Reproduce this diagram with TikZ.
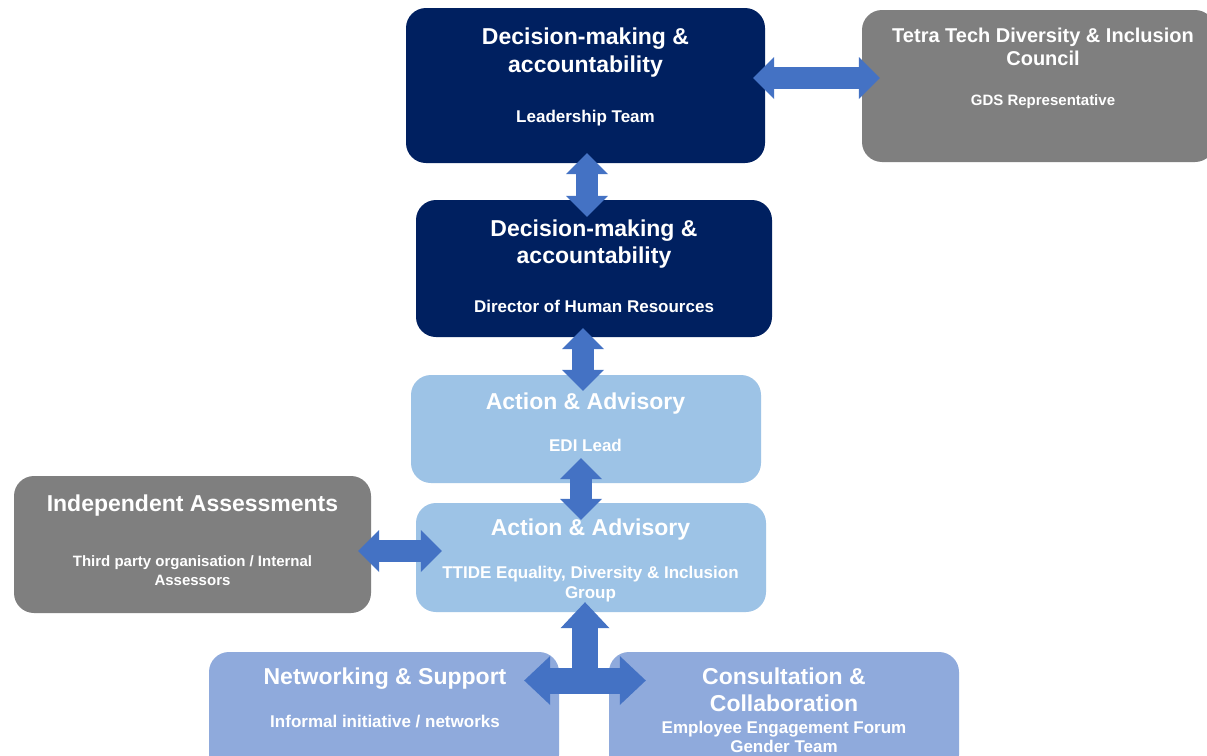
\documentclass[tikz,border=0pt]{standalone}
\usepackage{fontspec}
\setmainfont{Liberation Sans}
\usetikzlibrary{arrows.meta,calc}
\definecolor{navy}{HTML}{002060}
\definecolor{greybox}{HTML}{7F7F7F}
\definecolor{lightbox}{HTML}{9DC3E6}
\definecolor{midbox}{HTML}{8FAADC}
\definecolor{arrowblue}{HTML}{4472C4}
\begin{document}
\begin{tikzpicture}[x=1pt,y=-1pt,
  box/.style={rounded corners=20pt, inner sep=0pt, draw=none},
  head/.style={anchor=base, text=white, inner sep=0pt, font=\bfseries\fontsize{23}{27}\selectfont},
  headsm/.style={anchor=base, text=white, inner sep=0pt, font=\bfseries\fontsize{20}{24}\selectfont},
  sub/.style={anchor=base, text=white, inner sep=0pt, font=\bfseries\fontsize{17}{20}\selectfont},
  subsm/.style={anchor=base, text=white, inner sep=0pt, font=\bfseries\fontsize{15}{18}\selectfont},
  tipa/.tip={Triangle[width=42pt 0, length=21pt 0, line width=0pt 0]},
  tipb/.tip={Triangle[width=49pt 0, length=26pt 0, line width=0pt 0]},
  dbl/.style={draw=arrowblue, line width=22pt, tipa-tipa},
  dblbig/.style={draw=arrowblue, line width=26pt, tipb-tipb},
  sglbig/.style={draw=arrowblue, line width=26pt, -tipb}]
\clip (0,0) rectangle (1207,755);
\fill[white] (0,0) rectangle (1207,755);
% boxes
\node[box, fill=navy, minimum width=359pt, minimum height=155pt] (lead) at (585.5,85.5) {};
\node[box, fill=greybox, minimum width=353pt, minimum height=152pt] (tetra) at (1038.5,86) {};
\node[box, fill=navy, minimum width=356pt, minimum height=137pt] (dir) at (594,268.5) {};
\node[box, fill=lightbox, minimum width=350pt, minimum height=108pt] (edi) at (586,429) {};
\node[box, fill=lightbox, minimum width=350pt, minimum height=109pt] (ttide) at (591,557.5) {};
\node[box, fill=greybox, minimum width=357pt, minimum height=137pt] (ind) at (192.5,544.5) {};
\node[box, fill=midbox, minimum width=350pt, minimum height=123pt] (net) at (384,713.5) {};
\node[box, fill=midbox, minimum width=350pt, minimum height=123pt] (con) at (784,713.5) {};
% texts
\node[head] (leadh1) at (585.5,44) {Decision-making \&};
\node[head] (leadh2) at (585.5,72) {accountability};
\node[sub] (leads) at (585.5,122.5) {Leadership Team};
\node[headsm] (tetrah1) at (1043,42) {Tetra Tech Diversity \& Inclusion};
\node[headsm] (tetrah2) at (1043,65) {Council};
\node[subsm] (tetras) at (1043,105) {GDS Representative};
\node[head] (dirh1) at (594,236) {Decision-making \&};
\node[head] (dirh2) at (594,263) {accountability};
\node[sub] (dirs) at (594,312) {Director of Human Resources};
\node[head] (edih) at (585.5,409) {Action \& Advisory};
\node[sub] (edis) at (585.5,451) {EDI Lead};
\node[head] (ttideh) at (590.5,535) {Action \& Advisory};
\node[sub] (ttides1) at (590.5,578) {TTIDE Equality, Diversity \& Inclusion};
\node[sub] (ttides2) at (590.5,598) {Group};
\node[head] (indh) at (192.5,511) {Independent Assessments};
\node[subsm] (inds1) at (192.5,566) {Third party organisation / Internal};
\node[subsm] (inds2) at (192.5,585) {Assessors};
\node[head] (neth) at (385,684) {Networking \& Support};
\node[sub] (nets) at (385,727) {Informal initiative / networks};
\node[head] (conh1) at (784,684) {Consultation \&};
\node[head] (conh2) at (784,711) {Collaboration};
\node[sub] (cons1) at (784,733) {Employee Engagement Forum};
\node[sub] (cons2) at (784,752) {Gender Team};
% connectors
\draw[dbl] ($(lead.east)+(-12,-7.5)$) -- ($(tetra.west)+(18,-8)$);
\draw[dbl] ($(lead.south)+(1.5,-10)$) -- ($(dir.north)+(-7,17)$);
\draw[dbl] ($(dir.south)+(-11,-9)$) -- ($(edi.north)+(-3,16)$);
\draw[dbl] ($(edi.south)+(-5,-25)$) -- ($(ttide.north)+(-10,17)$);
\draw[dbl] ($(ind.east)+(-13,6.5)$) -- ($(ttide.west)+(26,-6.5)$);
\draw[dblbig] ($(net.east)+(-35,-33)$) -- ($(con.west)+(37,-33)$);
\coordinate (tj) at (585,681);
\draw[sglbig] (tj) -- ($(ttide.south)+(-6,-10)$);
\end{tikzpicture}
\end{document}
